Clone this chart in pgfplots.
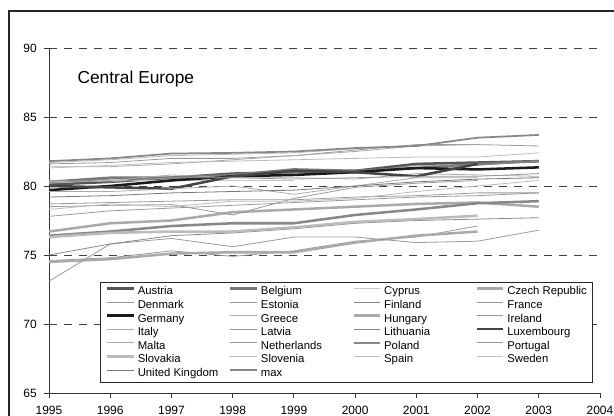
\documentclass[border=0pt]{standalone}
\usepackage{fontspec}
\setmainfont{Liberation Sans}
\usepackage{pgfplots}
\pgfplotsset{compat=1.18}
\definecolor{cA}{HTML}{555555}
\definecolor{cB}{HTML}{777777}
\definecolor{cC}{HTML}{888888}
\definecolor{cD}{HTML}{999999}
\definecolor{cE}{HTML}{AAAAAA}
\definecolor{cF}{HTML}{BBBBBB}
\definecolor{cG}{HTML}{C8C8C8}
\definecolor{cK}{HTML}{1A1A1A}
\definecolor{cL}{HTML}{444444}
\newcommand{\LE}[1]{\makebox[68pt][l]{#1}}
\pgfplotsset{thk/.style={line width=1.9pt}, thn/.style={line width=0.6pt}}
\begin{document}
\begin{tikzpicture}
\begin{axis}[
  at={(36.75pt,17.25pt)}, anchor=south west,
  scale only axis, width=413.25pt, height=258.75pt,
  xmin=1995, xmax=2004, ymin=65, ymax=90,
  axis x line*=bottom, axis y line*=left,
  axis line style={black!80, line width=0.6pt},
  every tick/.style={black!80, line width=0.6pt},
  tick align=outside, major tick length=3.5pt,
  xtick={1995,1996,1997,1998,1999,2000,2001,2002,2003,2004},
  xticklabels={1995,1996,1997,1998,1999,2000,2001,2002,2003,2004},
  ytick={65,70,75,80,85,90},
  yticklabels={65,70,75,80,85,90},
  tick label style={font=\fontsize{9}{10}\selectfont},
  x tick label style={yshift=-3pt},
  y tick label style={xshift=-2.2pt},
  ymajorgrids,
  major grid style={dash pattern=on 6pt off 5.25pt, black!75, line width=0.6pt},
  legend columns=4,
  legend cell align=left,
  legend image code/.code={\draw[#1] (0pt,2.6pt) -- (20pt,2.6pt);},
  legend style={at={(0.0926,0.3217)}, anchor=north west,
    draw=black!85, line width=0.8pt, fill=white,
    font=\fontsize{8.5}{9}\selectfont,
    inner xsep=4pt, inner ysep=2.5pt, row sep=1.2pt,
    nodes={inner sep=0.5pt, text height=6.2pt, text depth=1.8pt},
    /tikz/every odd column/.append style={column sep=1.5pt},
    /tikz/every even column/.append style={column sep=0pt}},
]
\addplot[cA, thk] coordinates {(1995,80.1) (1996,80.3) (1997,80.6) (1998,80.9) (1999,81.0) (2000,81.1) (2001,81.6) (2002,81.7) (2003,81.8)};
\addlegendentry{\LE{Austria}}
\addplot[cB, thk] coordinates {(1995,80.3) (1996,80.6) (1997,80.6) (1998,80.8) (1999,81.2) (2000,81.1) (2001,81.3) (2002,81.6) (2003,81.8)};
\addlegendentry{\LE{Belgium}}
\addplot[cG, thn] coordinates {(1995,80.3) (1996,80.4) (1997,80.4) (1998,80.4) (1999,80.4)};
\addlegendentry{\LE{Cyprus}}
\addplot[cE, thk] coordinates {(1995,76.7) (1996,77.3) (1997,77.5) (1998,78.1) (1999,78.3) (2000,78.5) (2001,78.7) (2002,78.8) (2003,78.5)};
\addlegendentry{Czech Republic}
\addplot[cD, thn] coordinates {(1995,77.8) (1996,78.2) (1997,78.4) (1998,78.6) (1999,78.8) (2000,79.0) (2001,79.2) (2002,79.3) (2003,79.5)};
\addlegendentry{\LE{Denmark}}
\addplot[cD, thn] coordinates {(1995,74.6) (1996,74.8) (1997,75.3) (1998,74.9) (1999,75.3) (2000,76.0) (2001,76.3) (2002,77.1)};
\addlegendentry{\LE{Estonia}}
\addplot[cC, thn] coordinates {(1995,80.2) (1996,80.5) (1997,80.5) (1998,80.8) (1999,81.0) (2000,81.0) (2001,81.5) (2002,81.5) (2003,81.8)};
\addlegendentry{\LE{Finland}}
\addplot[cD, thn] coordinates {(1995,81.6) (1996,81.7) (1997,82.0) (1998,82.0) (1999,82.2) (2000,82.6) (2001,83.0) (2002,83.0) (2003,82.9)};
\addlegendentry{France}
\addplot[cK, thk] coordinates {(1995,79.7) (1996,80.0) (1997,80.4) (1998,80.7) (1999,80.8) (2000,81.0) (2001,81.3) (2002,81.2) (2003,81.35)};
\addlegendentry{\LE{Germany}}
\addplot[cE, thn] coordinates {(1995,80.2) (1996,80.4) (1997,80.8) (1998,80.6) (1999,80.6) (2000,80.5) (2001,80.9) (2002,80.8) (2003,80.7)};
\addlegendentry{\LE{Greece}}
\addplot[cE, thk] coordinates {(1995,74.5) (1996,74.7) (1997,75.1) (1998,75.2) (1999,75.2) (2000,75.9) (2001,76.4) (2002,76.7)};
\addlegendentry{\LE{Hungary}}
\addplot[cD, thn] coordinates {(1995,78.5) (1996,78.6) (1997,78.65) (1998,77.9) (1999,79.1) (2000,79.9) (2001,80.2) (2002,80.4)};
\addlegendentry{Ireland}
\addplot[cE, thn] coordinates {(1995,81.4) (1996,81.4) (1997,81.6) (1998,81.9) (1999,82.2) (2000,82.5) (2001,82.9) (2002,83.0)};
\addlegendentry{\LE{Italy}}
\addplot[cD, thn] coordinates {(1995,73.1) (1996,75.8) (1997,76.2) (1998,75.6) (1999,76.3) (2000,76.3) (2001,75.9) (2002,76.0) (2003,76.8)};
\addlegendentry{\LE{Latvia}}
\addplot[cC, thn] coordinates {(1995,75.0) (1996,75.8) (1997,76.4) (1998,76.6) (1999,76.9) (2000,77.3) (2001,77.5) (2002,77.6) (2003,77.7)};
\addlegendentry{\LE{Lithuania}}
\addplot[cL, thk] coordinates {(1995,80.0) (1996,79.9) (1997,79.8) (1998,80.7) (1999,81.1) (2000,81.0) (2001,80.7) (2002,81.6)};
\addlegendentry{Luxembourg}
\addplot[cE, thn] coordinates {(1995,79.6) (1996,79.6) (1997,79.8) (1998,80.0) (1999,79.4) (2000,80.0) (2001,80.6) (2002,80.6)};
\addlegendentry{\LE{Malta}}
\addplot[cD, thn] coordinates {(1995,80.4) (1996,80.3) (1997,80.6) (1998,80.6) (1999,80.5) (2000,80.6) (2001,80.7) (2002,80.7) (2003,80.9)};
\addlegendentry{\LE{Netherlands}}
\addplot[cC, thk] coordinates {(1995,76.4) (1996,76.7) (1997,77.1) (1998,77.3) (1999,77.3) (2000,77.9) (2001,78.3) (2002,78.75) (2003,78.9)};
\addlegendentry{\LE{Poland}}
\addplot[cD, thn] coordinates {(1995,78.7) (1996,78.8) (1997,78.9) (1998,79.0) (1999,79.0) (2000,79.2) (2001,79.3) (2002,79.5) (2003,79.5)};
\addlegendentry{Portugal}
\addplot[cF, thk] coordinates {(1995,76.3) (1996,76.6) (1997,76.7) (1998,76.7) (1999,77.0) (2000,77.4) (2001,77.6) (2002,77.85)};
\addlegendentry{\LE{Slovakia}}
\addplot[cF, thn] coordinates {(1995,78.3) (1996,78.7) (1997,78.5) (1998,78.9) (1999,78.9) (2000,79.1) (2001,79.6) (2002,80.0) (2003,80.4)};
\addlegendentry{\LE{Slovenia}}
\addplot[cF, thn] coordinates {(1995,81.7) (1996,81.9) (1997,82.2) (1998,82.3) (1999,82.4) (2000,82.7) (2001,82.9) (2002,83.5) (2003,83.7)};
\addlegendentry{\LE{Spain}}
\addplot[cF, thn] coordinates {(1995,81.3) (1996,81.5) (1997,81.7) (1998,81.8) (1999,81.9) (2000,82.0) (2001,82.1) (2002,82.1) (2003,82.4)};
\addlegendentry{Sweden}
\addplot[cB, thn] coordinates {(1995,79.2) (1996,79.3) (1997,79.5) (1998,79.6) (1999,79.7) (2000,80.0) (2001,80.3) (2002,80.5) (2003,80.6)};
\addlegendentry{\LE{United Kingdom}}
\addplot[cC, line width=1.3pt] coordinates {(1995,81.8) (1996,82.0) (1997,82.35) (1998,82.4) (1999,82.5) (2000,82.75) (2001,82.9) (2002,83.5) (2003,83.7)};
\addlegendentry{\LE{max}}
\node[anchor=base west, font=\fontsize{13}{15}\selectfont] at (axis cs:1995.39,87.45) {Central Europe};
\end{axis}
\draw[black!85, line width=0.9pt] (6.75pt,-40pt) rectangle (520pt,303.75pt);
\pgfresetboundingbox
\useasboundingbox (0pt,0pt) rectangle (460.5pt,312pt);
\end{tikzpicture}
\end{document}
